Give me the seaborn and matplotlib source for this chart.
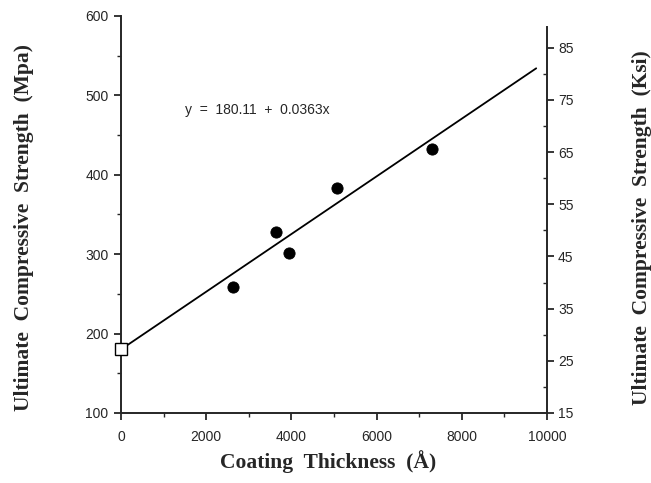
import numpy as np
import pandas as pd
import matplotlib
matplotlib.use("Agg")
import matplotlib.pyplot as plt
from matplotlib.ticker import MultipleLocator
import seaborn as sns

# measured points (coating thickness in Angstrom vs strength in MPa)
thickness = [2630, 3640, 3940, 5070, 7300]
strength = [259, 328, 301, 383, 432]
# uncoated fibre
uncoated_x = [0]
uncoated_y = [180]
# fit from the chart: y = 180.11 + 0.0363x
intercept = 180.11
slope = 0.0363
fit_x = [0, 9750]

sns.set_style("ticks")
plt.rcParams['font.family'] = ['Liberation Sans', 'DejaVu Sans']

df = pd.DataFrame({"thickness": thickness, "strength": strength})
fit = pd.DataFrame({"x": fit_x, "y": [intercept + slope * v for v in fit_x]})

fig = plt.figure(figsize=(6.51, 4.83), dpi=100)
ax = fig.add_axes([0.186, 0.145, 0.654, 0.822])

sns.lineplot(data=fit, x="x", y="y", color="black", lw=1.3, ax=ax)
sns.scatterplot(data=df, x="thickness", y="strength", color="black", s=65,
                edgecolor="black", zorder=3, ax=ax)
ax.plot(uncoated_x, uncoated_y, marker="s", ms=8, mfc="white", mec="black",
        mew=1.0, ls="none", zorder=4, clip_on=False)

ax.set_xlim(0, 10000)
ax.set_ylim(100, 600)
ax.xaxis.set_major_locator(MultipleLocator(2000))
ax.xaxis.set_minor_locator(MultipleLocator(1000))
ax.yaxis.set_major_locator(MultipleLocator(100))
ax.yaxis.set_minor_locator(MultipleLocator(50))
ax.spines["top"].set_visible(False)
ax.spines["right"].set_visible(False)
for s in ["left", "bottom"]:
    ax.spines[s].set_linewidth(1.4)
ax.tick_params(which="major", length=5, width=1.3, labelsize=10, pad=4)
ax.tick_params(axis="x", which="major", pad=7)
ax.tick_params(which="minor", length=3, width=1.0)

ax.text(1500, 482, "y  =  180.11  +  0.0363x", fontsize=10, va="center")

serif = dict(family=["Liberation Serif", "DejaVu Serif"], weight="bold", size=15.5)
ax.set_xlabel("Coating  Thickness  (Å)", labelpad=5, **serif)
ax.set_ylabel("Ultimate  Compressive  Strength  (Mpa)", labelpad=37, **serif)
ax.xaxis.label.set_x(0.487)
ax.yaxis.label.set_y(0.466)

ax2 = ax.twinx()
ax2.set_ylim(15, 91.1)
ax2.set_yticks([15, 25, 35, 45, 55, 65, 75, 85])
ax2.set_yticks([20, 30, 40, 50, 60, 70, 80], minor=True)
for s in ["top", "left", "bottom"]:
    ax2.spines[s].set_visible(False)
ax2.spines["right"].set_linewidth(1.4)
ax2.spines["right"].set_bounds(15, 89)
ax2.tick_params(which="major", length=5, width=1.3, labelsize=10, pad=3)
ax2.tick_params(which="minor", direction="in", length=3, width=1.0)
ax2.set_ylabel("Ultimate  Compressive  Strength  (Ksi)", labelpad=42, **serif)
ax2.yaxis.label.set_y(0.466)

fig.savefig("out.png", dpi=100)
